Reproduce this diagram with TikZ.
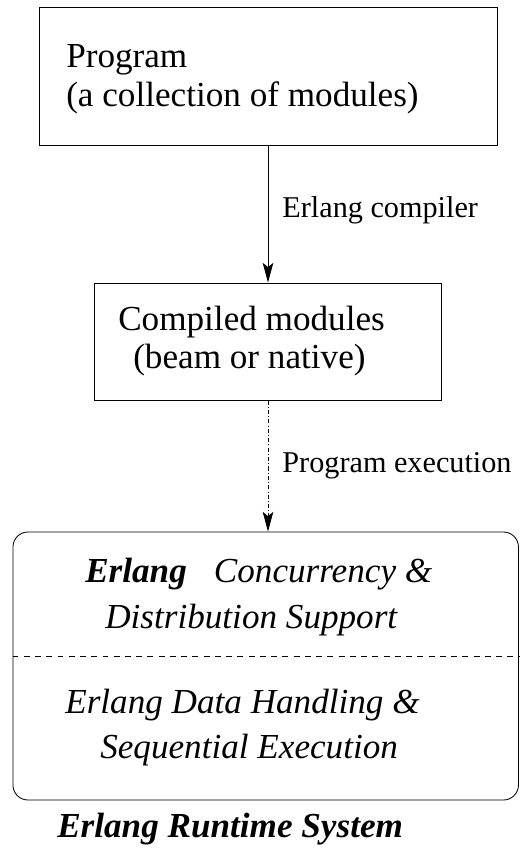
\documentclass[tikz,border=0pt]{standalone}
\usepackage{fontspec}
\setmainfont{LiberationSerif}[Extension=.ttf, UprightFont=*-Regular, BoldFont=*-Bold, ItalicFont=*-Italic, BoldItalicFont=*-BoldItalic]
\usetikzlibrary{arrows.meta}

\tikzset{
  box/.style={draw, line width=0.6pt, inner sep=0pt},
  txt/.style={inner sep=0pt, anchor=base west, font=\fontsize{25}{30}\selectfont},
  lbl/.style={inner sep=0pt, anchor=base west, font=\fontsize{21.5}{26}\selectfont},
  flow/.style={line width=0.6pt, -{Stealth[length=14pt, width=7.5pt, inset=3pt]}}
}

\begin{document}
\begin{tikzpicture}
        \useasboundingbox (0, 0) rectangle (12.975, -21.325);

        % Draw the boxes
        \node[box, minimum width=11.45cm, minimum height=3.45cm] (prog) at (6.7, -1.9) {};
        \node[txt] (progA) at (1.65, -1.675) {Program};
        \node[txt] (progB) at (1.65, -2.65) {(a collection of modules)};

        \node[box, minimum width=8.675cm, minimum height=2.925cm] (comp) at (6.7, -8.5375) {};
        \node[txt] (compA) at (2.95, -8.25) {Compiled modules};
        \node[txt] (compB) at (3.325, -9.2) {(beam or native)};

        \node[box, rounded corners=0.375cm, minimum width=12.6375cm, minimum height=6.7cm] (rts) at (6.6425, -16.65) {};
        \coordinate (split) at (6.7, -16.4);
        \draw[line width=0.6pt, dash pattern=on 4.2pt off 3.8pt] (rts.west |- split) -- (rts.east |- split);

        % Text of the runtime system
        \node[txt] (rtsA) at (2.125, -14.55) {\itshape\textbf{Erlang}\hspace{0.77em}Concurrency \&};
        \node[txt] (rtsB) at (2.625, -15.7) {\itshape Distribution Support};
        \node[txt] (rtsC) at (1.625, -17.825) {\itshape Erlang Data Handling \&};
        \node[txt] (rtsD) at (2.5, -18.95) {\itshape Sequential Execution};
        \node[txt] (title) at (1.425, -20.925) {\bfseries\itshape Erlang Runtime System};

        % Draw the arrows between the boxes
        \draw[flow] (prog.south -| comp.north) -- node[lbl, pos=0.5, xshift=0.35cm, yshift=-0.075cm] {Erlang compiler} (comp.north);
        \draw[flow, dash pattern=on 3pt off 1.5pt on 0.7pt off 1.5pt] (comp.south) -- node[lbl, pos=0.5, xshift=0.35cm, yshift=-0.15cm] {Program execution} (comp.south |- rts.north);
    \end{tikzpicture}
\end{document}
